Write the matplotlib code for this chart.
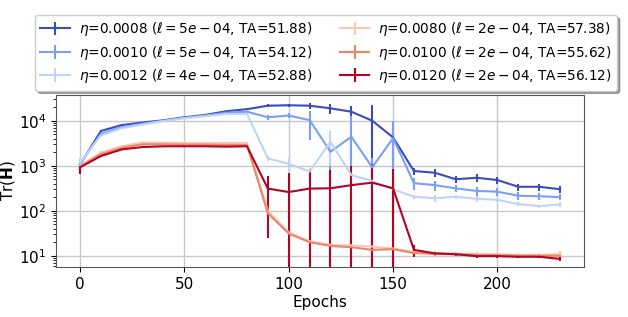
import numpy as np
import matplotlib
matplotlib.use("Agg")
import matplotlib.pyplot as plt

# epochs where the trace was measured
epochs = [0, 10, 20, 30, 40, 50, 60, 70, 80, 90, 100, 110,
          120, 130, 140, 150, 160, 170, 180, 190, 200, 210, 220, 230]

labels = [
    r'$\eta$=0.0008 ($\ell=5e-04$, TA=51.88)',
    r'$\eta$=0.0010 ($\ell=5e-04$, TA=54.12)',
    r'$\eta$=0.0012 ($\ell=4e-04$, TA=52.88)',
    r'$\eta$=0.0080 ($\ell=2e-04$, TA=57.38)',
    r'$\eta$=0.0100 ($\ell=2e-04$, TA=55.62)',
    r'$\eta$=0.0120 ($\ell=2e-04$, TA=56.12)',
]

tr_0008 = [1050, 5900, 8000, 9100, 10200, 11900, 13400, 16200, 18000, 21500, 22000, 21500,
           18800, 15800, 10000, 4250, 760, 700, 500, 540, 480, 340, 340, 300]
err_0008 = [150, 400, 300, 300, 300, 300, 400, 500, 800, 1500, 1500, 3000,
            4500, 5000, 12000, 3000, 150, 150, 80, 100, 80, 60, 60, 50]

tr_0010 = [1100, 5100, 7200, 8600, 10000, 11600, 13000, 15000, 15800, 11900, 13000, 10300,
           2040, 4400, 920, 4100, 410, 370, 315, 275, 265, 215, 210, 200]
err_0010 = [200, 300, 300, 300, 300, 300, 400, 500, 600, 1500, 1500, 6500,
            1500, 8000, 600, 5500, 120, 90, 50, 60, 50, 40, 40, 30]

tr_0012 = [1150, 4700, 6800, 8200, 9800, 11300, 12600, 14000, 14200, 1450, 1100, 740,
           3400, 620, 460, 300, 205, 190, 205, 185, 175, 140, 127, 138]
err_0012 = [300, 300, 300, 300, 300, 300, 400, 400, 500, 200, 400, 150,
            2400, 100, 80, 50, 20, 30, 20, 25, 20, 15, 10, 20]

tr_0080 = [1000, 1950, 2700, 3300, 3250, 3200, 3200, 3200, 3200, 100, 33, 21,
           17.5, 17, 16, 14.5, 12, 11.5, 11.2, 11, 10.8, 10.5, 10.3, 11]
err_0080 = [300, 150, 100, 100, 100, 100, 100, 100, 100, 10, 3, 2,
            1.5, 1.5, 1.5, 1.5, 1, 1, 1, 1, 1, 1, 1, 1.5]

tr_0100 = [950, 1800, 2500, 3000, 3000, 2950, 2950, 2900, 2900, 88, 31, 20,
           16.5, 15.5, 13.5, 14, 11.5, 11, 10.8, 10.5, 10.3, 10, 10, 10]
err_0100 = [200, 150, 100, 100, 100, 100, 100, 100, 100, 10, 3, 2,
            1.5, 1.5, 1.5, 1.5, 1, 1, 1, 1, 1, 1, 1, 1]

tr_0120 = [920, 1640, 2300, 2600, 2700, 2700, 2700, 2650, 2700, 310, 260, 310,
           315, 370, 420, 315, 13.5, 11.3, 10.8, 9.8, 9.8, 9.5, 9.5, 8.5]
err_0120 = [250, 100, 100, 100, 100, 100, 100, 100, 100, 285, 420, 475,
            475, 610, 680, 535, 4, 1, 0.8, 0.8, 0.8, 0.8, 0.8, 0.8]

series = [(tr_0008, err_0008), (tr_0010, err_0010), (tr_0012, err_0012),
          (tr_0080, err_0080), (tr_0100, err_0100), (tr_0120, err_0120)]

cmap = plt.get_cmap('coolwarm')
colors = [cmap(v) for v in np.linspace(0, 1, 6)]

fig = plt.figure(figsize=(6.28, 3.17), dpi=100)
ax = fig.add_axes([0.0892, 0.1577, 0.8408, 0.5426])

for (tr, err), c, lab in zip(series, colors, labels):
    ax.errorbar(epochs, tr, yerr=err, color=c, label=lab, linewidth=1.5,
                elinewidth=1.5)

ax.set_yscale('log')
ax.set_ylim(10 ** 0.75, 10 ** 4.57)
ax.set_xticks([0, 50, 100, 150, 200])
ax.grid(True, which='major', color='#c8c8c8', linewidth=1)
ax.set_axisbelow(True)
ax.tick_params(labelsize=11)
ax.set_xlabel('Epochs', fontsize=11, labelpad=2)
ax.set_ylabel(r'$\mathrm{Tr}(\mathbf{H})$', fontsize=11, labelpad=1)
for s in ax.spines.values():
    s.set_color('#555555')

fig.legend(loc='upper center', bbox_to_anchor=(0.519, 0.975), ncol=2,
           fontsize=9.8, shadow=True, handlelength=2.2, handletextpad=0.6,
           columnspacing=2.0, labelspacing=0.4, borderpad=0.4)

fig.savefig('out.png', dpi=100)
